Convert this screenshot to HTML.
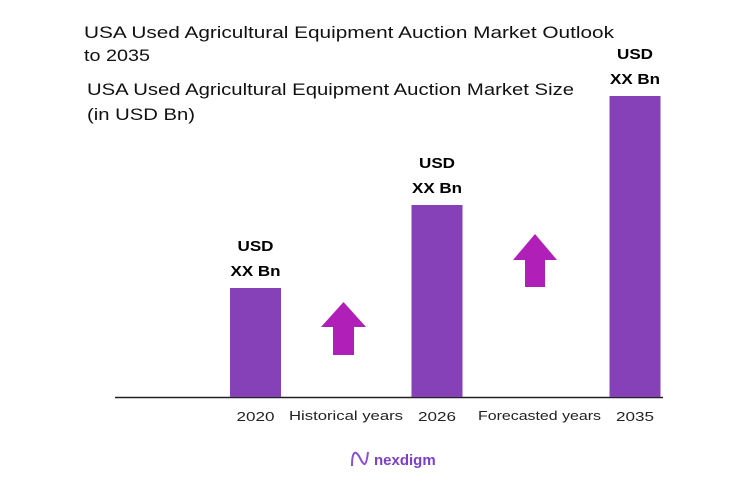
<!DOCTYPE html>
<html><head><meta charset="utf-8"><style>
body{margin:0;background:#fff;width:754px;height:487px;overflow:hidden;font-family:"Liberation Sans",sans-serif;}
svg text{font-family:"Liberation Sans",sans-serif;}
</style></head><body>
<svg id="chart" width="754" height="487" xmlns="http://www.w3.org/2000/svg">
<text x="84" y="38" font-size="17" fill="#111" textLength="530" lengthAdjust="spacingAndGlyphs">USA Used Agricultural Equipment Auction Market Outlook</text>
<text x="84" y="61" font-size="17" fill="#111" textLength="66" lengthAdjust="spacingAndGlyphs">to 2035</text>
<text x="87" y="95" font-size="17" fill="#111" textLength="487" lengthAdjust="spacingAndGlyphs">USA Used Agricultural Equipment Auction Market Size</text>
<text x="87" y="120" font-size="17" fill="#111" textLength="108" lengthAdjust="spacingAndGlyphs">(in USD Bn)</text>
<line x1="115" y1="397.5" x2="663" y2="397.5" stroke="#222" stroke-width="1.5"/>
<g id="bars"></g>
<path d="M343.5 302 L366 327 L354 327 L354 355 L333 355 L333 327 L321 327 Z" fill="#b020b8"/>
<path d="M535 234 L557 260 L545 260 L545 287 L525 287 L525 260 L513 260 Z" fill="#b020b8"/>
<text x="289" y="420" font-size="13" fill="#222" textLength="114" lengthAdjust="spacingAndGlyphs">Historical years</text>
<text x="478" y="420" font-size="13" fill="#222" textLength="123" lengthAdjust="spacingAndGlyphs">Forecasted years</text>
<g>
<path d="M352 466 C352 450,356 450,360 458 C364 466,366 468,368 452" stroke="#8a4fd6" stroke-width="2" fill="none"/>
<text x="374" y="465" font-size="15" font-weight="bold" fill="#7b3fc8">nexdigm</text>
</g>
</svg>
<script>
const categories=["2020","2026","2035"];
const values=[1.09,1.92,3.01];
const valueLabels=["XX Bn","XX Bn","XX Bn"];
const baseY=397, scale=100, barW=51;
const centers={"2020":255.5,"2026":437,"2035":635};
function yPos(v){return baseY-v*scale;}
const g=document.getElementById('bars');
const NS="http://www.w3.org/2000/svg";
categories.forEach((c,i)=>{
  const x=centers[c]-barW/2, y=yPos(values[i]);
  const r=document.createElementNS(NS,'rect');
  r.setAttribute('x',x);r.setAttribute('y',y);r.setAttribute('width',barW);r.setAttribute('height',baseY-y);r.setAttribute('fill','#8640b8');
  
  
  g.appendChild(r);
  const t1=document.createElementNS(NS,'text');
  t1.setAttribute('x',centers[c]-18);t1.setAttribute('y',y-37);t1.setAttribute('font-size','15');t1.setAttribute('font-weight','bold');t1.setAttribute('textLength','36');t1.setAttribute('lengthAdjust','spacingAndGlyphs');t1.textContent='USD';
  
  
  g.appendChild(t1);
  const t2=document.createElementNS(NS,'text');
  t2.setAttribute('x',centers[c]-25);t2.setAttribute('y',y-12);t2.setAttribute('font-size','15');t2.setAttribute('font-weight','bold');t2.setAttribute('textLength','50');t2.setAttribute('lengthAdjust','spacingAndGlyphs');t2.textContent=valueLabels[i];
  
  
  g.appendChild(t2);
  const t3=document.createElementNS(NS,'text');
  t3.setAttribute('x',centers[c]-19);t3.setAttribute('y',421);t3.setAttribute('font-size','13');t3.setAttribute('fill','#222');t3.setAttribute('textLength','38');t3.setAttribute('lengthAdjust','spacingAndGlyphs');t3.textContent=c;
  
  
  g.appendChild(t3);
});
</script>
</body></html>
